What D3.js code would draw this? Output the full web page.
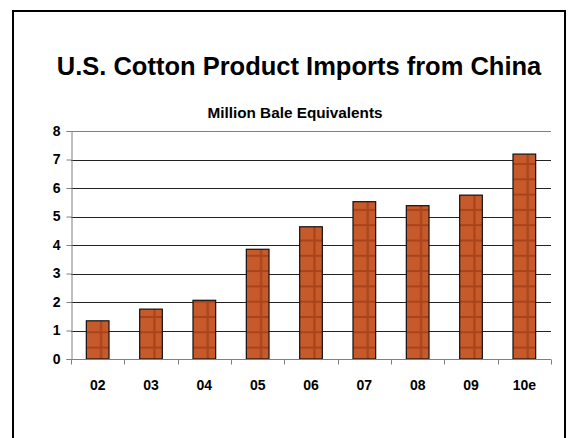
<!DOCTYPE html>
<html><head><meta charset="utf-8">
<script src="https://cdn.jsdelivr.net/npm/d3@7"></script>
<style>body{margin:0;background:#fff;}svg{display:block;font-family:"Liberation Sans",Arial,sans-serif;}</style>
</head><body>
<script>
const categories = ["02","03","04","05","06","07","08","09","10e"];
const values = [1.34, 1.75, 2.06, 3.85, 4.64, 5.52, 5.38, 5.75, 7.19];
const yTicks = [0,1,2,3,4,5,6,7,8];
const title = "U.S. Cotton Product Imports from China";
const subtitle = "Million Bale Equivalents";

const W = 576, H = 438;
const FONT = '"Liberation Sans",Arial,sans-serif';
const svg = d3.select("body").append("svg").attr("width", W).attr("height", H);

svg.append("rect").attr("x",13).attr("y",11).attr("width",552).attr("height",460)
  .attr("fill","none").attr("stroke","#000").attr("stroke-width",2);

const x = d3.scaleBand().domain(categories).range([71,551]).paddingInner(0.575).paddingOuter(0.2875);
const y = d3.scaleLinear().domain([0,8]).range([359,131]);

const defs = svg.append("defs");
const pat = defs.append("pattern").attr("id","plaid").attr("patternUnits","userSpaceOnUse")
  .attr("x",71).attr("y",164-1).attr("width",x.step()).attr("height",15.3);
pat.append("rect").attr("width",x.step()).attr("height",15.3).attr("fill","#c65a2b");
pat.append("rect").attr("x",0).attr("y",0).attr("width",x.step()).attr("height",2).attr("fill","#a9431a");
pat.append("rect").attr("x",29).attr("y",0).attr("width",2.2).attr("height",15.3).attr("fill","#a9431a");

svg.append("text").attr("x",299).attr("y",75).attr("text-anchor","middle")
  .attr("font-size",25.5).attr("font-weight","bold").attr("font-family",FONT).text(title);
svg.append("text").attr("x",295).attr("y",118).attr("text-anchor","middle")
  .attr("font-size",15.3).attr("font-weight","bold").attr("font-family",FONT).text(subtitle);

// gridlines
svg.append("g").selectAll("line").data(yTicks.filter(d=>d>0)).join("line")
  .attr("x1",71).attr("x2",551).attr("y1",d=>Math.round(y(d))+0.5).attr("y2",d=>Math.round(y(d))+0.5)
  .attr("stroke",(d)=> d===8 ? "#808080" : "#222").attr("stroke-width",1);

// bars
svg.append("g").selectAll("rect").data(values).join("rect")
  .attr("x",(d,i)=>x(categories[i])).attr("width",x.bandwidth())
  .attr("y",d=>y(d)).attr("height",d=>y(0)-y(d))
  .attr("fill","url(#plaid)").attr("stroke","#111").attr("stroke-width",1.2);

// y axis
const yAxis = d3.axisLeft(y).tickValues(yTicks).tickSize(5).tickPadding(6).tickFormat(d3.format("d"));
const gy = svg.append("g").attr("transform","translate(71.5,0)").call(yAxis);
gy.select(".domain").attr("stroke","#808080");
gy.selectAll(".tick line").attr("stroke","#808080");
gy.selectAll("text").attr("font-size",14).attr("font-weight","bold").attr("font-family",FONT).attr("fill","#000");

// x axis
const gx = svg.append("g").attr("transform","translate(0,359.5)");
gx.append("line").attr("x1",71).attr("x2",551).attr("stroke","#808080");
const bounds = categories.map(c => x(c) - (x.step()-x.bandwidth())/2).concat([x.range()[1]]);
gx.selectAll("line.tk").data(bounds).join("line").attr("class","tk")
  .attr("x1",d=>Math.round(d)+0.5).attr("x2",d=>Math.round(d)+0.5).attr("y1",0).attr("y2",5).attr("stroke","#808080");
gx.selectAll("text").data(categories).join("text")
  .attr("x",c=>x(c)+x.bandwidth()/2).attr("y",30.5).attr("text-anchor","middle")
  .attr("font-size",14).attr("font-weight","bold").attr("font-family",FONT).text(c=>c);
</script>
</body></html>
